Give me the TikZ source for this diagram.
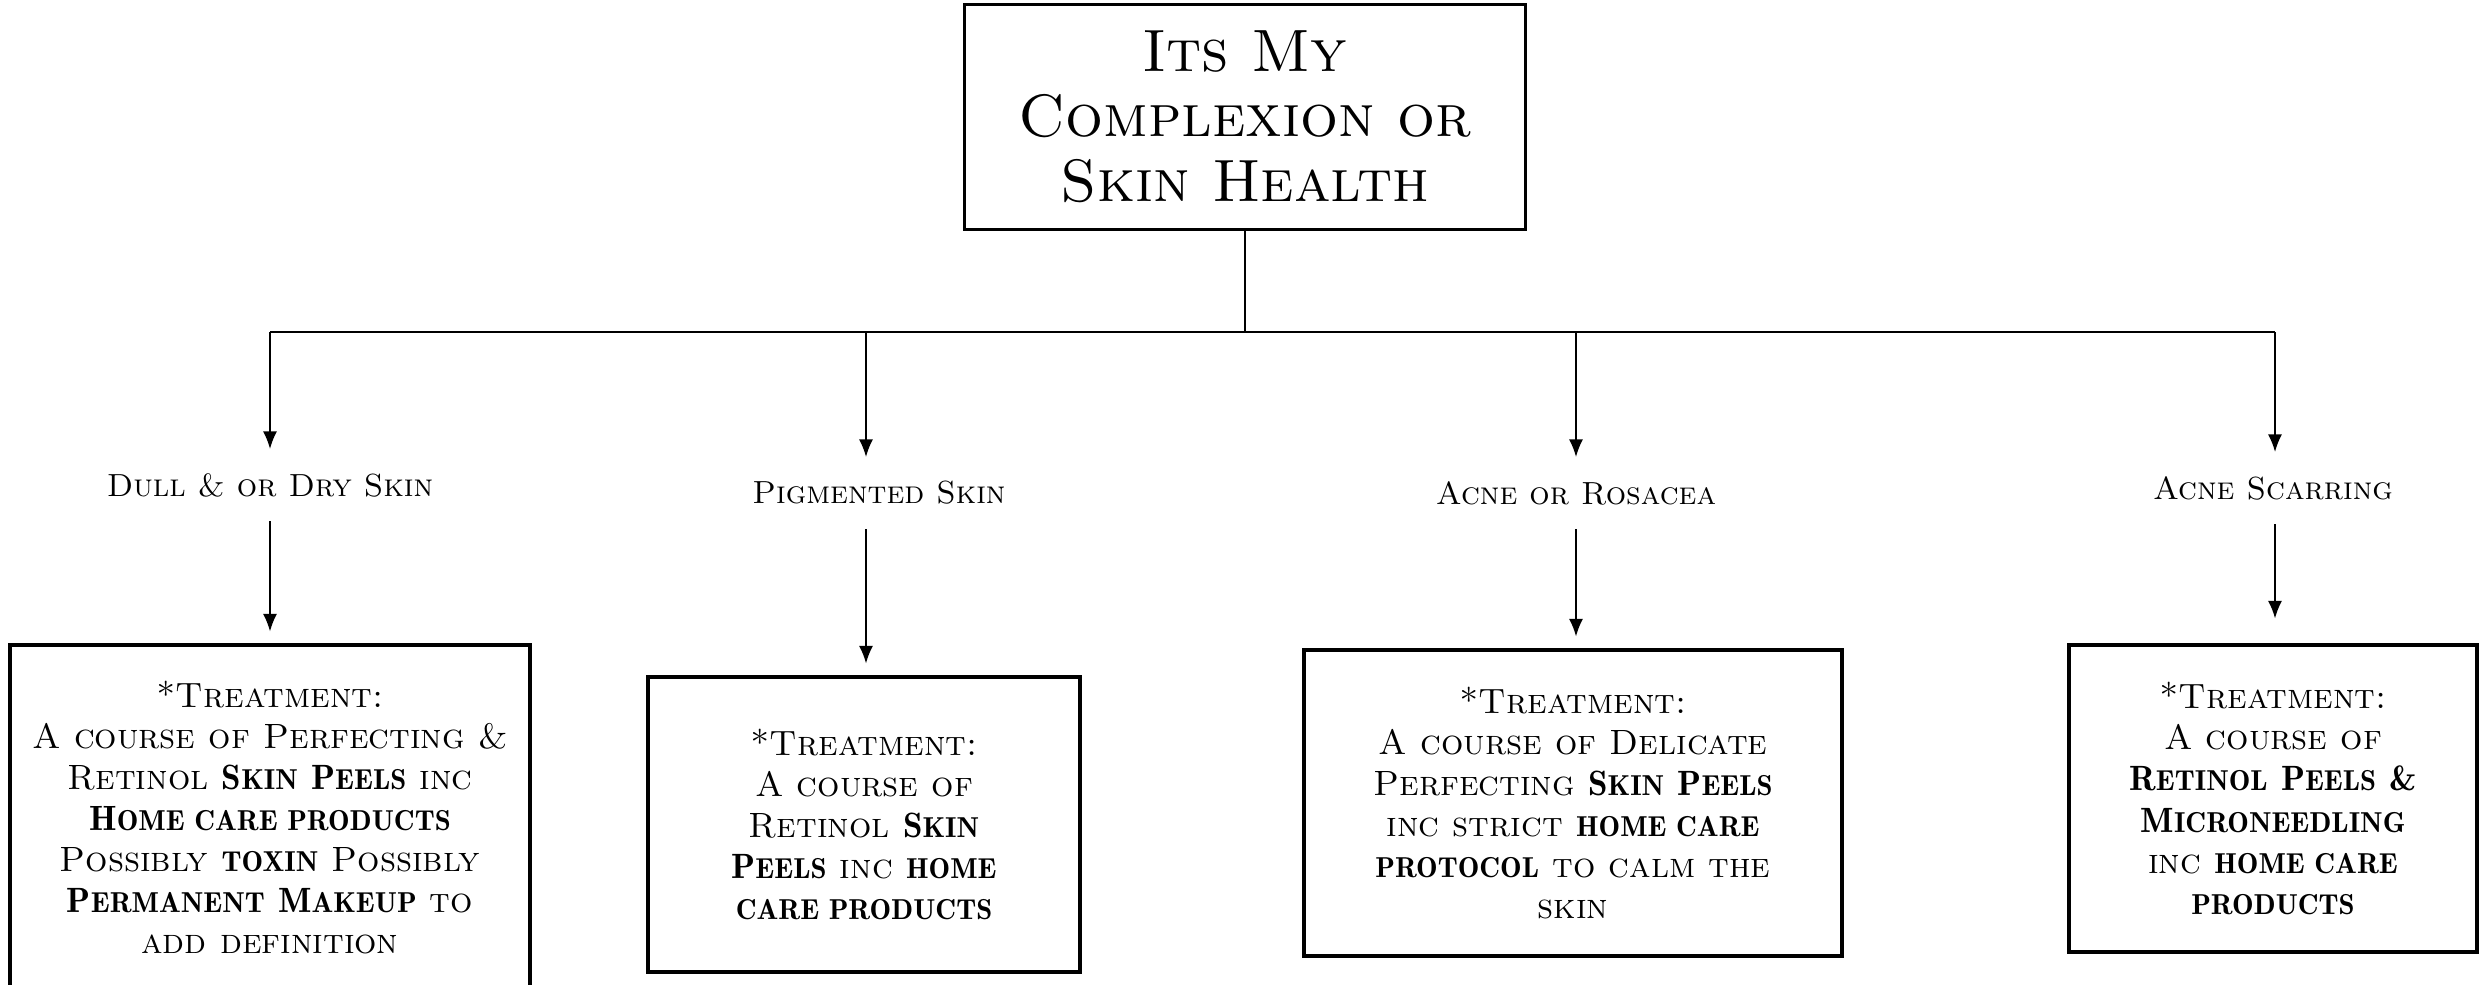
\documentclass[tikz,border=0pt]{standalone}
\usepackage{tikz}
\usetikzlibrary{positioning, arrows.meta, shapes}
\newcommand\bw[2]{{\fontseries{b}\selectfont #1{\fontsize{8.2}{11.7}\selectfont\MakeUppercase{#2}}}}

\begin{document}
\begin{tikzpicture}[semithick,
    topbox/.style={draw, line width=0.9pt, minimum width=5.61cm, minimum height=2.245cm, align=center,
      font={\fontsize{17}{18.5}\selectfont\scshape}},
    cond/.style={minimum height=0.7cm, inner sep=0pt, font={\fontsize{9.1}{11}\selectfont\scshape}},
    treat/.style={draw, line width=0.9pt, align=center, inner sep=0pt,
      font={\fontsize{10}{11.7}\selectfont\scshape}},
    arr/.style={-{Latex[length=5pt,width=4pt]}, line width=0.45pt},
    gap/.style={shorten >=0.12cm}]
  \useasboundingbox (0,0) rectangle (24.79,-9.84);
  \node[topbox] (top) at (12.45,-1.17) {Its My\\Complexion or\\Skin Health};
  \coordinate (bus) at (12.45,-3.32);
  \coordinate (b1) at (2.70,-3.32);
  \coordinate (b2) at (8.66,-3.32);
  \coordinate (b3) at (15.76,-3.32);
  \coordinate (b4) at (22.75,-3.32);
  \node[cond] (dull) at (2.70,-4.85) {Dull \& or Dry Skin};
  \node[cond] (pig) at (8.79,-4.93) {Pigmented Skin};
  \node[cond] (acne) at (15.76,-4.93) {Acne or Rosacea};
  \node[cond] (scar) at (22.73,-4.88) {Acne Scarring};
  \node[treat, minimum width=5.20cm, minimum height=3.45cm] (t1) at (2.70,-8.175)
    {*Treatment:\\ A course of Perfecting \&\\ Retinol \bw{S}{kin} \bw{P}{eels} inc\\
     \bw{H}{ome care products}\\ Possibly \bw{}{toxin} Possibly\\
     \bw{P}{ermanent} \bw{M}{akeup} to\\ add definition};
  \node[treat, minimum width=4.32cm, minimum height=2.95cm] (t2) at (8.64,-8.245)
    {*Treatment:\\ A course of\\ Retinol \bw{S}{kin}\\ \bw{P}{eels} inc \bw{}{home}\\ \bw{}{care products}};
  \node[treat, minimum width=5.38cm, minimum height=3.06cm] (t3) at (15.73,-8.03)
    {*Treatment:\\ A course of Delicate\\ Perfecting \bw{S}{kin} \bw{P}{eels}\\
     inc strict \bw{}{home care}\\ \bw{}{protocol} to calm the\\ skin};
  \node[treat, minimum width=4.08cm, minimum height=3.07cm] (t4) at (22.73,-7.985)
    {*Treatment:\\ A course of\\ \bw{R}{etinol} \bw{P}{eels} {\fontseries{b}\selectfont\&}\\ \bw{M}{icroneedling}\\
     inc \bw{}{home care}\\ \bw{}{products}};
  \draw[line width=0.45pt] (top) -- (bus);
  \draw[line width=0.45pt] (b1) -- (b4);
  \draw[arr] (b1) -- (dull);
  \draw[arr] (b2) -- (b2 |- pig.north);
  \draw[arr] (b3) -- (acne);
  \draw[arr] (b4) -- (b4 |- scar.north);
  \draw[arr, gap] (dull) -- (t1);
  \draw[arr, gap] (b2 |- pig.south) -- (b2 |- t2.north);
  \draw[arr, gap] (acne) -- (acne |- t3.north);
  \draw[arr, shorten >=0.25cm] (b4 |- scar.south) -- (b4 |- t4.north);
\end{tikzpicture}
\end{document}
